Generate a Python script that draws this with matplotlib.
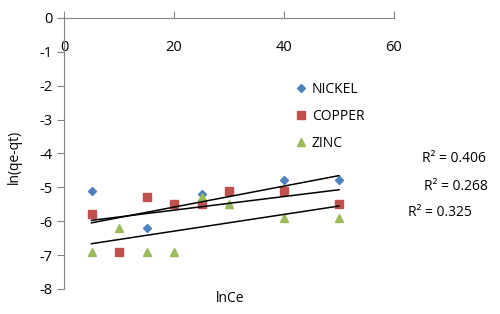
import matplotlib
matplotlib.use("Agg")
import matplotlib.pyplot as plt
import numpy as np

plt.rcParams['font.family'] = ['Open Sans', 'DejaVu Sans']
plt.rcParams['axes.unicode_minus'] = False

nickel_x = [5, 10, 15, 20, 25, 30, 40, 50]
nickel_y = [-5.1, -6.9, -6.2, -5.5, -5.2, -5.1, -4.8, -4.8]
copper_x = [5, 10, 15, 20, 25, 30, 40, 50]
copper_y = [-5.8, -6.9, -5.3, -5.5, -5.5, -5.1, -5.1, -5.5]
zinc_x = [5, 10, 15, 20, 25, 30, 40, 50]
zinc_y = [-6.9, -6.2, -6.9, -6.9, -5.3, -5.5, -5.9, -5.9]
r2_labels = ["R² = 0.406", "R² = 0.268", "R² = 0.325"]

colors = ['#4F81BD', '#C0504D', '#9BBB59']
markers = ['D', 's', '^']
sizes = [4, 5.5, 6]
names = ['NICKEL', 'COPPER', 'ZINC']
series = [(nickel_x, nickel_y), (copper_x, copper_y), (zinc_x, zinc_y)]

fig = plt.figure(figsize=(5, 3.14), dpi=100)
ax = fig.add_axes([0.128, 0.08, 0.66, 0.863])

handles = []
for (xs, ys), c, m, s, n in zip(series, colors, markers, sizes, names):
    h, = ax.plot(xs, ys, linestyle='none', marker=m, color=c, markersize=s, label=n)
    handles.append(h)
for xs, ys in series:
    xs = np.array(xs, float); ys = np.array(ys, float)
    k, b = np.polyfit(xs, ys, 1)
    xx = np.array([xs.min(), xs.max()])
    ax.plot(xx, k * xx + b, color='black', lw=1.1)

ax.set_xlim(0, 60)
ax.set_ylim(-8, 0)
ax.set_xticks([0, 20, 40, 60])
ax.set_yticks(range(-8, 1))
ax.spines['bottom'].set_position(('data', 0))
ax.spines['right'].set_visible(False)
ax.spines['top'].set_visible(False)
for sp in ['left', 'bottom']:
    ax.spines[sp].set_color('#868686')
ax.tick_params(axis='x', direction='in', length=5, color='#868686', labelsize=10.5, pad=16)
ax.tick_params(axis='y', direction='out', length=5, color='#868686', labelsize=10.5)

fig.text(0.028, 0.5, 'ln(qe-qt)', rotation=90, va='center', ha='center', fontsize=10)
fig.text(0.46, 0.05, 'lnCe', va='center', ha='center', fontsize=10)

fig.legend(handles=handles, loc='upper left', bbox_to_anchor=(0.568, 0.778), frameon=False,
           fontsize=10, handlelength=0.6, handletextpad=0.5, labelspacing=0.85)

fig.text(0.845, 1 - 159 / 314, r2_labels[0], va='center', ha='left', fontsize=10)
fig.text(0.848, 1 - 187 / 314, r2_labels[1], va='center', ha='left', fontsize=10)
fig.text(0.815, 1 - 213 / 314, r2_labels[2], va='center', ha='left', fontsize=10)

fig.savefig('out.png', dpi=100)
